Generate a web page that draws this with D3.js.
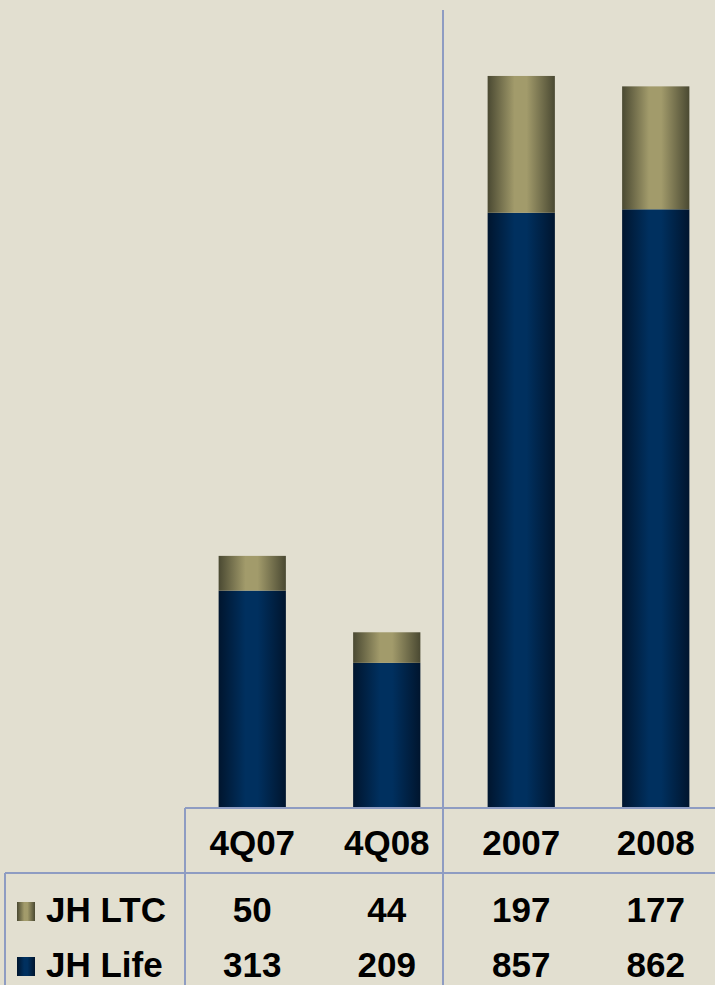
<!DOCTYPE html>
<html>
<head>
<meta charset="utf-8">
<script src="https://cdnjs.cloudflare.com/ajax/libs/d3/7.8.5/d3.min.js"></script>
<style>
  html, body { margin: 0; padding: 0; background: #E2DFD0; }
  svg { display: block; }
</style>
</head>
<body>
<script>
// Periods and stacked series
const categories = ["4Q07", "4Q08", "2007", "2008"];
const seriesNames = ["JH Life", "JH LTC"];
const jhLife = [313, 209, 857, 862];
const jhLtc = [50, 44, 197, 177];

const W = 715, H = 985;
const svg = d3.select("body").append("svg").attr("width", W).attr("height", H);
svg.append("rect").attr("width", W).attr("height", H).attr("fill", "#E2DFD0");

const x = d3.scaleBand().domain(categories).range([185, 723]).paddingInner(0.5).paddingOuter(0.25);
const y = d3.scaleLinear().domain([0, 1100]).range([808, 44]);

// Cylinder-like horizontal gradients
const defs = svg.append("defs");
function grad(id, dark, light) {
  const g = defs.append("linearGradient").attr("id", id)
    .attr("x1", "0%").attr("x2", "100%").attr("y1", "0%").attr("y2", "0%");
  g.append("stop").attr("offset", "0%").attr("stop-color", dark);
  g.append("stop").attr("offset", "40%").attr("stop-color", light);
  g.append("stop").attr("offset", "58%").attr("stop-color", light);
  g.append("stop").attr("offset", "100%").attr("stop-color", dark);
}
grad("gLife", "#00152E", "#00305F");
grad("gLtc", "#4A4932", "#A29B6B");

const rows = categories.map((c, i) => ({ cat: c, "JH Life": jhLife[i], "JH LTC": jhLtc[i] }));
const stacked = d3.stack().keys(seriesNames)(rows);
const fills = { "JH Life": "url(#gLife)", "JH LTC": "url(#gLtc)" };

svg.append("g").selectAll("g").data(stacked).join("g")
  .attr("fill", d => fills[d.key])
  .selectAll("rect").data(d => d).join("rect")
  .attr("x", d => x(d.data.cat))
  .attr("width", x.bandwidth())
  .attr("y", d => y(d[1]))
  .attr("height", d => y(d[0]) - y(d[1]));

// Table grid lines
const lc = "#8E9CC2";
const grid = svg.append("g").attr("stroke", lc).attr("stroke-width", 2).attr("fill", "none");
grid.append("line").attr("x1", 185).attr("x2", W).attr("y1", 808).attr("y2", 808);
grid.append("line").attr("x1", 185).attr("x2", 185).attr("y1", 808).attr("y2", 873);
grid.append("line").attr("x1", 5).attr("x2", W).attr("y1", 873).attr("y2", 873);
grid.append("line").attr("x1", 185).attr("x2", 185).attr("y1", 873).attr("y2", H);
grid.append("line").attr("x1", 5).attr("x2", 5).attr("y1", 873).attr("y2", H);
grid.append("line").attr("x1", 443).attr("x2", 443).attr("y1", 10).attr("y2", H);

const font = "'Liberation Sans', Arial, sans-serif";
const cx = c => x(c) + x.bandwidth() / 2;

// Header row
svg.append("g").selectAll("text").data(categories).join("text")
  .attr("x", d => cx(d)).attr("y", 855)
  .attr("text-anchor", "middle")
  .attr("font-family", font).attr("font-weight", "bold").attr("font-size", 35)
  .attr("fill", "#000").text(d => d);

// Data rows (LTC first, then Life)
const tableRows = [
  { name: "JH LTC", vals: jhLtc, fill: "url(#gLtc)", base: 922 },
  { name: "JH Life", vals: jhLife, fill: "url(#gLife)", base: 977 }
];
tableRows.forEach(r => {
  svg.append("rect").attr("x", 17).attr("y", r.base - 20).attr("width", 18).attr("height", 19).attr("fill", r.fill);
  svg.append("text").attr("x", 46).attr("y", r.base)
    .attr("font-family", font).attr("font-weight", "bold").attr("font-size", 35)
    .attr("fill", "#000").text(r.name);
  svg.append("g").selectAll("text").data(r.vals).join("text")
    .attr("x", (d, i) => cx(categories[i])).attr("y", r.base)
    .attr("text-anchor", "middle")
    .attr("font-family", font).attr("font-weight", "bold").attr("font-size", 35)
    .attr("fill", "#000").text(d => d);
});
</script>
</body>
</html>
